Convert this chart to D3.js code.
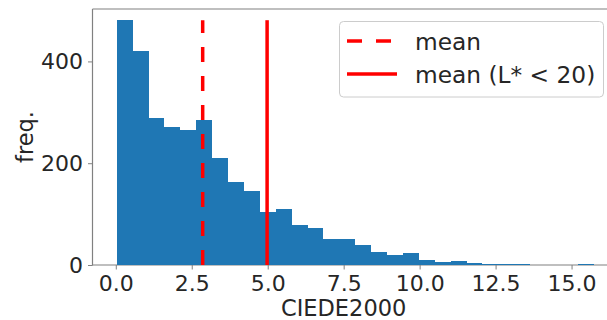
<!DOCTYPE html>
<html>
<head>
<meta charset="utf-8">
<script src="https://cdn.jsdelivr.net/npm/d3@7"></script>
<style>
body { margin: 0; background: #fff; }
text { font-family: "DejaVu Sans", sans-serif; fill: #262626; }
</style>
</head>
<body>
<div id="chart"></div>
<script>
// histogram of CIEDE2000 values, 30 bins
var binMin = 0.03,
    binMax = 15.73;
var counts = [481, 420, 288, 272, 266, 284, 211, 164, 146, 105,
              110, 79, 73, 51, 51, 39, 26, 20, 24, 10,
              6, 8, 4, 2, 1, 1, 0, 0, 0, 1];
var xTicks = [0, 2.5, 5, 7.5, 10, 12.5, 15];
var yTicks = [0, 200, 400];
var means = [
  { label: "mean", value: 2.86, dash: true },
  { label: "mean (L* < 20)", value: 4.98, dash: false }
];

var w = 607, h = 320;
var bw = (binMax - binMin) / counts.length;
var bins = counts.map(function(c, i) {
  return { x0: binMin + i * bw, x1: binMin + (i + 1) * bw, n: c };
});

var x = d3.scaleLinear().domain([-0.75, 16.43]).range([93, 615]);
var y = d3.scaleLinear().domain([0, 503]).range([265, 9]);

var svg = d3.select('#chart').append('svg')
    .attr('width', w).attr('height', h);

// frame
svg.append('line').attr('x1', 92.5).attr('x2', 92.5).attr('y1', 9).attr('y2', 265.5)
  .attr('stroke', '#808080').attr('stroke-width', 1.2);
svg.append('line').attr('x1', 92.5).attr('x2', w).attr('y1', 9).attr('y2', 9)
  .attr('stroke', '#808080').attr('stroke-width', 1.2);
svg.append('line').attr('x1', 92.5).attr('x2', w).attr('y1', 265).attr('y2', 265)
  .attr('stroke', '#808080').attr('stroke-width', 1.2);

svg.append('g').attr('shape-rendering', 'crispEdges').selectAll('rect')
  .data(bins)
  .enter().append('rect')
  .attr('x', function(d) { return x(d.x0); })
  .attr('width', function(d) { return x(d.x1) - x(d.x0); })
  .attr('y', function(d) { return y(d.n); })
  .attr('height', function(d) { return y(0) - y(d.n); })
  .attr('fill', '#1f77b4');

// axes
var xAxis = svg.append('g').attr('transform', 'translate(0,265)')
  .call(d3.axisBottom(x).tickValues(xTicks).tickFormat(d3.format('.1f'))
        .tickSize(4.5).tickPadding(6));
var yAxis = svg.append('g').attr('transform', 'translate(92.5,0)')
  .call(d3.axisLeft(y).tickValues(yTicks).tickSize(4.5).tickPadding(5));
[xAxis, yAxis].forEach(function(a) {
  a.select('.domain').remove();
  a.selectAll('line').attr('stroke', '#808080');
  a.selectAll('text').style('font-size', '22px').attr('fill', '#262626');
});

svg.append('text').attr('x', x(7.5)).attr('y', 316)
  .attr('text-anchor', 'middle').style('font-size', '22.5px').text('CIEDE2000');
svg.append('text').attr('transform', 'translate(33,137) rotate(-90)')
  .attr('text-anchor', 'middle').style('font-size', '22.5px').text('freq.');

// mean lines
svg.append('g').selectAll('line')
  .data(means)
  .enter().append('line')
  .attr('x1', function(d) { return x(d.value); })
  .attr('x2', function(d) { return x(d.value); })
  .attr('y1', y(0))
  .attr('y2', y(d3.max(counts)))
  .attr('stroke', 'red').attr('stroke-width', 3.5)
  .attr('stroke-dasharray', function(d) { return d.dash ? '15,14' : null; });

// legend
var lg = svg.append('g');
lg.append('rect').attr('x', 339.5).attr('y', 21.5).attr('width', 264).attr('height', 75.5)
  .attr('rx', 4).attr('fill', 'white').attr('fill-opacity', 0.8)
  .attr('stroke', '#cccccc').attr('stroke-width', 1);
var items = lg.selectAll('g.item').data(means).enter().append('g')
  .attr('transform', function(d, i) { return 'translate(0,' + (41 + i * 33) + ')'; });
items.append('line').attr('x1', 347).attr('x2', 397).attr('y1', 0).attr('y2', 0)
  .attr('stroke', 'red').attr('stroke-width', 3.5)
  .attr('stroke-dasharray', function(d) { return d.dash ? '15,14' : null; });
items.append('text').attr('x', 415).attr('y', 8.5)
  .style('font-size', '23.3px').text(function(d) { return d.label; });
</script>
</body>
</html>
